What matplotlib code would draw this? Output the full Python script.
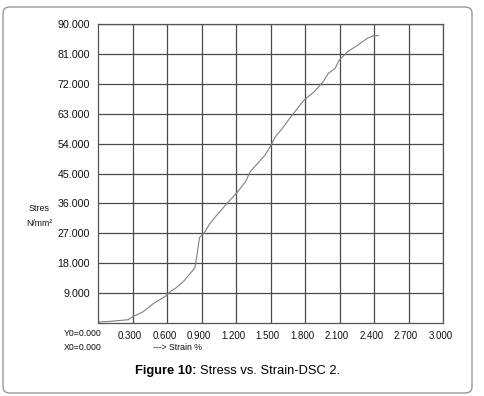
import matplotlib.pyplot as plt
import matplotlib.transforms as mtransforms
from matplotlib.patches import FancyBboxPatch

plt.rcParams['font.family'] = ['Liberation Sans', 'DejaVu Sans']

# strain (%) vs stress (N/mm2)
strain = [0.0, 0.10, 0.26, 0.30, 0.39, 0.48, 0.585, 0.63, 0.672, 0.745, 0.80, 0.84,
          0.86, 0.88, 0.92, 0.962, 1.02, 1.107, 1.20, 1.28, 1.32, 1.425, 1.45, 1.50,
          1.54, 1.60, 1.655, 1.72, 1.79, 1.88, 1.955, 2.00, 2.06, 2.09, 2.17, 2.26,
          2.34, 2.39, 2.435]
stress = [0.2, 0.4, 0.9, 1.8, 3.3, 5.8, 8.0, 9.5, 10.4, 12.6, 14.9, 16.6,
          20.9, 25.7, 27.0, 29.5, 32.0, 35.5, 39.0, 42.5, 45.5, 49.6, 50.6, 53.4,
          56.1, 58.6, 61.2, 64.1, 67.2, 69.7, 72.7, 75.2, 76.7, 79.0, 81.8, 83.8,
          85.8, 86.5, 86.6]

x_ticks = [0.3, 0.6, 0.9, 1.2, 1.5, 1.8, 2.1, 2.4, 2.7, 3.0]
x_labels = ['0.300', '0.600', '0.900', '1.200', '1.500', '1.800', '2.100', '2.400', '2.700', '3.000']
y_ticks = [9, 18, 27, 36, 45, 54, 63, 72, 81, 90]
y_labels = ['9.000', '18.000', '27.000', '36.000', '45.000', '54.000', '63.000', '72.000', '81.000', '90.000']

W, H = 485, 396
fig = plt.figure(figsize=(W / 100, H / 100), dpi=100)

# rounded frame around the whole figure
frame = FancyBboxPatch((3 / W, 3 / H), 469 / W, 386 / H,
                       boxstyle='round,pad=0,rounding_size=0.015',
                       transform=fig.transFigure, fill=False,
                       edgecolor='#9a9a9a', linewidth=1.0)
fig.patches.append(frame)

ax = fig.add_axes([98.3 / W, (H - 322.7) / H, 345 / W, 298.4 / H])
ax.plot(strain, stress, color='#808080', linewidth=0.8)
ax.set_xlim(0, 3.0)
ax.set_ylim(0, 90)

ax.set_xticks(x_ticks)
ax.set_xticklabels(x_labels, fontsize=7, color='#111111')
ax.set_yticks(y_ticks)
ax.set_yticklabels(y_labels, fontsize=7.7, color='#111111')
ax.tick_params(length=0)
ax.tick_params(axis='x', pad=6)
ax.tick_params(axis='y', pad=6)
ax.grid(True, color='#4a4a4a', linewidth=0.9)
for s in ax.spines.values():
    s.set_color('#555555')
    s.set_linewidth(0.9)

# x tick labels sit a bit left of the grid lines
shift = mtransforms.ScaledTranslation(-3 / 100, 0, fig.dpi_scale_trans)
for lab in ax.get_xticklabels():
    lab.set_transform(lab.get_transform() + shift)

fig.text(39 / W, 1 - 208.7 / H, 'Stres', fontsize=6.4, ha='center', va='center', color='#111111')
fig.text(39 / W, 1 - 223 / H, 'N/mm²', fontsize=6.2, ha='center', va='center', color='#111111')
fig.text(64 / W, 1 - 334 / H, 'Y0=0.000', fontsize=6.3, ha='left', va='center', color='#111111')
fig.text(64 / W, 1 - 348 / H, 'X0=0.000', fontsize=6.3, ha='left', va='center', color='#111111')
fig.text(153 / W, 1 - 348 / H, '---> Strain %', fontsize=6.3, ha='left', va='center', color='#111111')

fig.text(197 / W, 1 - 371 / H, 'Figure 10:', fontsize=9.3, fontweight='bold', ha='right', va='center')
fig.text(200.5 / W, 1 - 371 / H, 'Stress vs. Strain-DSC 2.', fontsize=9.3, ha='left', va='center')

fig.savefig('out.png', dpi=100)
